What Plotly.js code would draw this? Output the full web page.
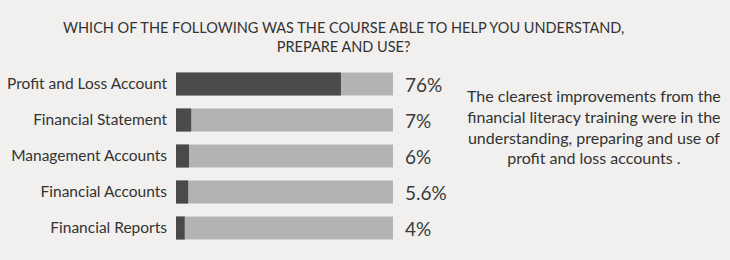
<!DOCTYPE html>
<html><head><meta charset="utf-8">
<script src="https://cdn.plot.ly/plotly-3.0.1.min.js"></script>
<style>html,body{margin:0;padding:0;background:#f1f0ee;}</style>
</head><body><div id="chart" style="width:730px;height:260px;"></div>
<script>
const categories = ["Profit and Loss Account","Financial Statement","Management Accounts","Financial Accounts","Financial Reports"];
const values = [76, 7, 6, 5.6, 4];
const totals = [100, 100, 100, 100, 100];
const valueLabels = ["76%","7%","6%","5.6%","4%"];
const titleText = "WHICH OF THE FOLLOWING WAS THE COURSE ABLE TO HELP YOU UNDERSTAND,<br>PREPARE AND USE?";
const noteText = "The clearest improvements from the<br>financial literacy training were in the<br>understanding, preparing and use of<br>profit and loss accounts .";

const font = "Lato, 'Open Sans', sans-serif";
const traces = [
  {type:'bar', orientation:'h', y:categories, x:totals, marker:{color:'#b3b3b3'}, hoverinfo:'skip'},
  {type:'bar', orientation:'h', y:categories, x:values, marker:{color:'#4a4a4a'}, hoverinfo:'skip'}
];
const annotations = categories.map((c,i)=>({
  xref:'x', yref:'y', x:totals[i], y:c, xanchor:'left', yanchor:'middle', xshift:10,
  text:valueLabels[i], showarrow:false, font:{family:font, size:19, color:'#3a3a3a'}
}));
annotations.push({xref:'paper', yref:'paper', x:1.926, y:0.664, xanchor:'center', yanchor:'middle',
  text:noteText, showarrow:false, align:'center', font:{family:font, size:16, color:'#333'}});
annotations.push({xref:'paper', yref:'paper', x:0.77, y:1, yshift:29, xanchor:'center', yanchor:'middle',
  text:titleText, showarrow:false, align:'center', font:{family:font, size:14.5, color:'#333'}});
const layout = {
  width:730, height:260,
  paper_bgcolor:'#f1f0ee', plot_bgcolor:'#f1f0ee',
  margin:{l:176, r:337, t:66, b:14},
  barmode:'overlay', bargap:0.36, showlegend:false,
  xaxis:{range:[0,100], visible:false, fixedrange:true},
  yaxis:{autorange:'reversed', showgrid:false, zeroline:false, showline:false, ticks:'', ticklabelstandoff:8,
    tickfont:{family:font, size:15.5, color:'#333'}},
  annotations:annotations
};
Plotly.newPlot('chart', traces, layout, {displayModeBar:false, staticPlot:true});
</script></body></html>
